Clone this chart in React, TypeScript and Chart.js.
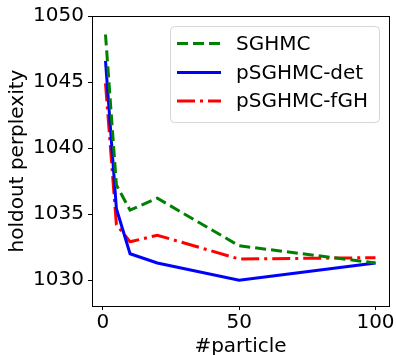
import { useEffect, useRef } from "react";
import { Chart, registerables } from "chart.js";
Chart.register(...registerables);

const particles = [1, 5, 10, 20, 50, 100];
const sghmc = [1048.6, 1037.2, 1035.3, 1036.2, 1032.6, 1031.3];
const psghmcDet = [1046.6, 1035.4, 1032.0, 1031.3, 1030.0, 1031.3];
const psghmcFgh = [1044.9, 1034.2, 1032.9, 1033.4, 1031.6, 1031.7];
const xTicks = [0, 50, 100];
const yTicks = [1030, 1035, 1040, 1045, 1050];
const seriesLabels = ["SGHMC", "pSGHMC-det", "pSGHMC-fGH"];

const FAMILY = "'DejaVu Sans', sans-serif";

export default function App() {
  const ref = useRef<HTMLCanvasElement>(null);
  useEffect(() => {
    document.body.style.margin = "0";
    const frame = {
      id: "frame",
      afterDraw(chart: any) {
        const { left, top, right, bottom } = chart.chartArea;
        const ctx = chart.ctx;
        ctx.save();
        ctx.strokeStyle = "#000";
        ctx.lineWidth = 1;
        ctx.strokeRect(Math.round(left) + 0.5, Math.round(top) + 0.5, Math.round(right - left), Math.round(bottom - top));
        ctx.restore();
      },
    };
    const legendPlugin = {
      id: "customLegend",
      afterDraw(chart: any) {
        const ctx = chart.ctx;
        ctx.save();
        const bx = 170, by = 26, bw = 209, bh = 96;
        ctx.beginPath();
        ctx.roundRect(bx + 0.5, by + 0.5, bw, bh, 4);
        ctx.fillStyle = "rgba(255,255,255,0.8)";
        ctx.fill();
        ctx.strokeStyle = "#d6d6d6";
        ctx.lineWidth = 1;
        ctx.stroke();
        const rows = [43.5, 72.5, 101];
        chart.data.datasets.forEach((ds: any, i: number) => {
          const y = rows[i];
          ctx.beginPath();
          ctx.setLineDash(ds.borderDash || []);
          ctx.strokeStyle = ds.borderColor;
          ctx.lineWidth = ds.borderWidth;
          ctx.moveTo(177, y);
          ctx.lineTo(221, y);
          ctx.stroke();
          ctx.setLineDash([]);
          ctx.fillStyle = "#000";
          ctx.font = `20px ${FAMILY}`;
          ctx.textBaseline = "middle";
          ctx.textAlign = "left";
          ctx.fillText(ds.label, 236, y + 1);
        });
        ctx.restore();
      },
    };
    const mk = (label: string, vals: number[], color: string, dash: number[]) => ({
      label,
      data: particles.map((x, i) => ({ x, y: vals[i] })),
      borderColor: color,
      backgroundColor: color,
      borderWidth: 3,
      borderDash: dash,
      pointRadius: 0,
      fill: false,
      tension: 0,
    });
    const tickFont = { family: FAMILY, size: 20 };
    const chart = new Chart(ref.current!, {
      type: "line",
      data: {
        datasets: [
          mk(seriesLabels[0], sghmc, "#008000", [11, 5]),
          mk(seriesLabels[1], psghmcDet, "#0000ff", []),
          mk(seriesLabels[2], psghmcFgh, "#ff0000", [18, 5, 3, 5]),
        ],
      },
      options: {
        responsive: false,
        animation: false,
        layout: { padding: { top: 15, right: 7, left: 0, bottom: 0 } },
        plugins: { legend: { display: false }, tooltip: { enabled: false } },
        scales: {
          x: {
            type: "linear",
            min: -3.95,
            max: 104.95,
            afterBuildTicks: (s: any) => {
              s.ticks = xTicks.map((v) => ({ value: v }));
            },
            afterFit: (s: any) => {
              s.height = 49;
            },
            grid: { display: true, drawOnChartArea: false, drawTicks: true, tickLength: 4, color: "#000" },
            border: { display: false },
            ticks: { font: tickFont, color: "#000", padding: 1, maxRotation: 0, callback: (v: any) => String(v) },
            title: { display: true, text: "#particle", font: tickFont, color: "#000", padding: { top: 0, bottom: -4 } },
          },
          y: {
            type: "linear",
            min: 1028.04,
            max: 1050,
            afterBuildTicks: (s: any) => {
              s.ticks = yTicks.map((v) => ({ value: v }));
            },
            afterFit: (s: any) => {
              s.width = 92;
            },
            grid: { display: true, drawOnChartArea: false, drawTicks: true, tickLength: 4, color: "#000" },
            border: { display: false },
            ticks: { font: tickFont, color: "#000", padding: 4, callback: (v: any) => String(v) },
            title: { display: true, text: "holdout perplexity", font: tickFont, color: "#000", padding: { top: 6, bottom: 0 } },
          },
        },
      },
      plugins: [frame, legendPlugin],
    });
    return () => chart.destroy();
  }, []);
  return <canvas ref={ref} width={396} height={355} style={{ display: "block" }} />;
}
